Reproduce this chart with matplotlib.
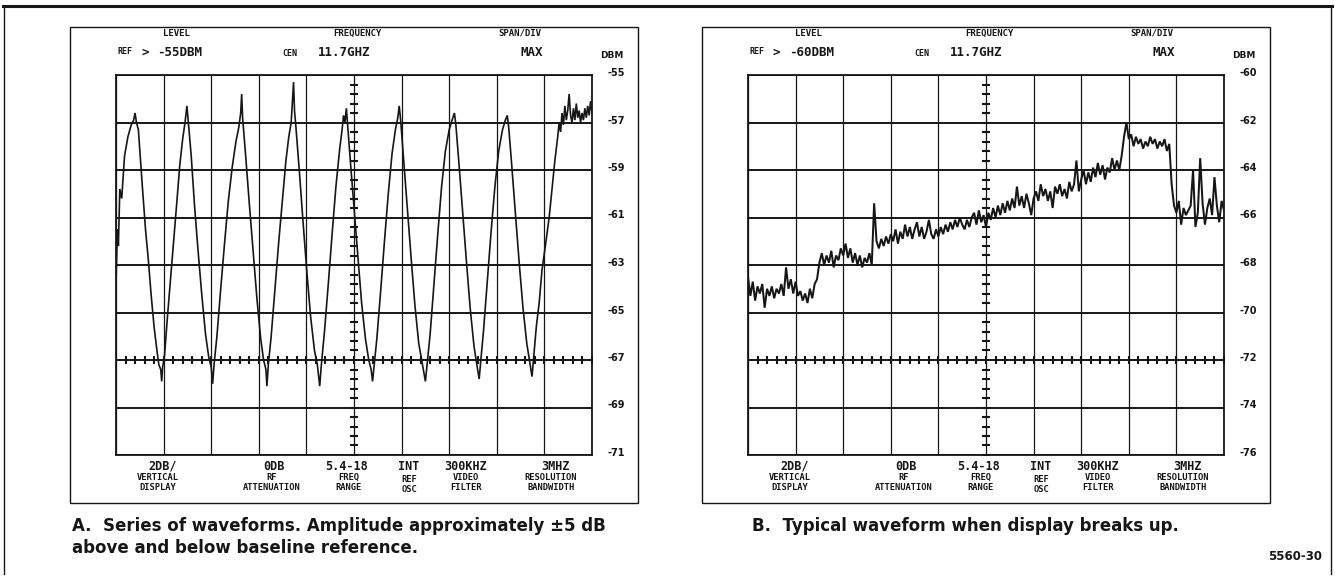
import numpy as np
import matplotlib
matplotlib.use("Agg")
import matplotlib.pyplot as plt
from matplotlib.lines import Line2D
from matplotlib.patches import Rectangle
from matplotlib.transforms import ScaledTranslation

# ---------------- data ----------------
# Panel A: series of waveforms (x in screen divisions, y in dBm)
LEFT_X = [0.00, 0.03, 0.05, 0.08, 0.12, 0.18, 0.25, 0.32, 0.37, 0.40, 0.43, 0.47, 0.55, 0.62, 0.68, 0.74,
          0.80, 0.86, 0.90, 0.94, 0.96, 0.98, 1.02, 1.08, 1.15, 1.22, 1.28, 1.34, 1.40, 1.45, 1.49, 1.52,
          1.58, 1.65, 1.72, 1.80, 1.88, 1.95, 2.00, 2.03, 2.06, 2.12, 2.20, 2.28, 2.36, 2.44, 2.52, 2.58,
          2.62, 2.64, 2.66, 2.72, 2.80, 2.88, 2.96, 3.04, 3.10, 3.15, 3.17, 3.20, 3.26, 3.34, 3.42, 3.50,
          3.57, 3.63, 3.68, 3.71, 3.73, 3.75, 3.78, 3.85, 3.93, 4.01, 4.09, 4.17, 4.23, 4.28, 4.31, 4.38,
          4.46, 4.54, 4.62, 4.70, 4.75, 4.78, 4.81, 4.84, 4.87, 4.93, 5.00, 5.08, 5.16, 5.24, 5.31, 5.36,
          5.39, 5.42, 5.48, 5.56, 5.64, 5.72, 5.80, 5.87, 5.92, 5.95, 5.98, 6.04, 6.12, 6.20, 6.28, 6.36,
          6.44, 6.50, 6.53, 6.60, 6.68, 6.76, 6.84, 6.92, 7.00, 7.06, 7.11, 7.14, 7.20, 7.28, 7.36, 7.44,
          7.52, 7.58, 7.63, 7.66, 7.72, 7.80, 7.88, 7.96, 8.04, 8.12, 8.18, 8.22, 8.25, 8.31, 8.39, 8.47,
          8.55, 8.63, 8.70, 8.74, 8.77, 8.83, 8.89, 8.95, 9.02, 9.10, 9.16, 9.22, 9.28, 9.31, 9.34, 9.37,
          9.40, 9.43, 9.46, 9.49, 9.52, 9.55, 9.58, 9.61, 9.64, 9.67, 9.70, 9.73, 9.76, 9.79, 9.82, 9.85,
          9.88, 9.91, 9.94, 9.97, 10.00]
LEFT_Y = [-63.8, -61.5, -62.2, -59.8, -60.2, -58.4, -57.6, -57.1, -56.9, -56.6, -57.0, -57.3, -59.6, -61.5, -62.8, -64.3,
          -65.6, -66.6, -67.2, -67.4, -67.9, -67.3, -66.8, -65.2, -63.5, -61.8, -60.3, -58.8, -57.7, -57.0, -56.3, -57.0,
          -58.4, -60.5, -62.3, -64.2, -65.9, -66.9, -67.3, -68.0, -67.2, -66.0, -64.0, -62.1, -60.3, -58.9, -57.8, -57.2,
          -56.6, -55.8, -56.8, -58.3, -60.4, -62.4, -64.4, -66.1, -67.0, -67.4, -68.1, -67.2, -66.0, -64.0, -62.0, -60.2,
          -58.6, -57.6, -57.0, -56.0, -55.3, -56.5, -57.2, -59.0, -61.2, -63.3, -65.2, -66.6, -67.2, -68.1, -67.3, -65.8,
          -63.8, -61.7, -59.7, -58.1, -57.3, -56.7, -57.0, -56.4, -57.2, -58.8, -60.6, -62.6, -64.6, -66.1, -67.0, -67.4,
          -67.9, -67.3, -66.1, -64.1, -62.0, -60.0, -58.3, -57.3, -56.8, -56.3, -56.9, -58.5, -60.6, -62.7, -64.7, -66.3,
          -67.2, -67.9, -67.3, -65.9, -63.8, -61.7, -59.7, -58.2, -57.3, -56.9, -56.6, -57.1, -58.6, -60.7, -62.8, -64.8,
          -66.4, -67.2, -67.8, -67.1, -65.8, -63.7, -61.6, -59.7, -58.2, -57.3, -56.9, -56.7, -57.2, -58.7, -60.8, -62.9,
          -64.8, -66.3, -67.2, -67.7, -67.0, -65.6, -64.6, -63.2, -62.2, -61.0, -59.8, -58.6, -57.6, -57.0, -57.4, -56.6,
          -57.1, -56.3, -56.9, -56.5, -55.8, -56.7, -57.0, -56.4, -56.9, -56.2, -56.8, -56.5, -57.0, -56.6, -56.9, -56.4,
          -56.8, -56.3, -56.7, -56.1, -56.6]

# Panel B: waveform when display breaks up (one value per 0.05 division of sweep)
RIGHT_Y = [-68.5, -69.3, -68.7, -69.5, -68.9, -69.2, -68.8, -69.8, -69.0, -69.3,
           -68.9, -69.4, -69.0, -69.2, -68.8, -69.3, -68.1, -69.0, -68.6, -69.2,
           -68.7, -69.3, -69.1, -69.5, -69.2, -69.6, -69.0, -69.4, -68.8, -68.6,
           -67.9, -67.5, -68.0, -67.6, -67.9, -67.4, -68.1, -67.6, -67.8, -67.3,
           -67.6, -67.1, -67.7, -67.3, -67.9, -67.5, -68.0, -67.6, -68.1, -67.7,
           -67.9, -67.5, -68.0, -65.4, -67.0, -67.3, -66.9, -67.2, -66.8, -67.1,
           -66.7, -67.0, -66.5, -67.1, -66.6, -66.9, -66.3, -66.8, -66.4, -66.9,
           -66.5, -66.2, -66.8, -66.4, -66.9, -66.6, -66.1, -66.7, -66.9, -66.5,
           -66.8, -66.4, -66.7, -66.3, -66.6, -66.2, -66.5, -66.1, -66.4, -66.0,
           -66.3, -66.5, -66.1, -66.4, -66.0, -65.8, -66.3, -65.7, -66.2, -65.9,
           -66.4, -65.8, -66.1, -65.6, -66.0, -65.5, -65.9, -65.4, -65.8, -65.3,
           -65.7, -65.2, -65.6, -64.7, -65.5, -65.1, -65.6, -65.0, -65.4, -65.9,
           -65.2, -64.9, -65.3, -64.6, -65.1, -64.8, -65.3, -64.9, -65.6, -64.7,
           -65.0, -64.6, -65.1, -64.8, -65.2, -64.5, -64.9, -64.6, -63.6, -64.9,
           -64.4, -64.0, -64.6, -64.1, -64.5, -63.9, -64.3, -63.7, -64.2, -63.8,
           -64.4, -63.9, -64.1, -63.5, -64.0, -63.6, -64.0, -63.4, -62.6, -62.0,
           -62.7, -62.5, -63.0, -62.6, -62.9, -62.7, -63.1, -62.8, -63.0, -62.6,
           -62.9, -62.7, -63.1, -62.8, -63.0, -62.7, -63.2, -62.9, -64.6, -65.5,
           -65.8, -65.3, -66.3, -65.6, -65.9, -65.7, -65.5, -64.0, -66.4, -65.8,
           -63.5, -65.4, -66.3, -65.6, -65.2, -65.9, -64.3, -65.5, -66.2, -65.3,
           -65.7]
RIGHT_X = np.linspace(0, 10, len(RIGHT_Y))

LEFT_YTICKS = [-55, -57, -59, -61, -63, -65, -67, -69, -71]
RIGHT_YTICKS = [-60, -62, -64, -66, -68, -70, -72, -74, -76]
LEFT_BASELINE = -67
RIGHT_BASELINE = -72

LEFT_REF = "-55DBM"
RIGHT_REF = "-60DBM"
CENTER_FREQ = "11.7GHZ"
SPAN = "MAX"
BOTTOM_VALUES = ["2DB/", "0DB", "5.4-18", "INT", "300KHZ", "3MHZ"]
BOTTOM_SUB1 = ["VERTICAL", "RF", "FREQ", "REF", "VIDEO", "RESOLUTION"]
BOTTOM_SUB2 = ["DISPLAY", "ATTENUATION", "RANGE", "OSC", "FILTER", "BANDWIDTH"]
CAPTION_A = ["A.  Series of waveforms. Amplitude approximately \u00b15 dB",
             "above and below baseline reference."]
CAPTION_B = "B.  Typical waveform when display breaks up."
FIG_ID = "5560-30"

# ---------------- layout ----------------
W, H = 1335, 577
fig = plt.figure(figsize=(W / 100, H / 100), dpi=100)
fig.patch.set_facecolor("white")

def fx(x):
    return x / W

def fy(y):
    return 1 - y / H

INK = "#161616"
MONO = ["DejaVu Sans Mono"]
NARROW = ["Liberation Sans Narrow", "DejaVu Sans"]
CAP = ["DejaVu Sans"]

# outer border
fig.add_artist(Line2D([fx(3), fx(1332)], [fy(6), fy(6)], color=INK, lw=2.2, transform=fig.transFigure))
fig.add_artist(Line2D([fx(4), fx(4)], [fy(6), fy(574)], color=INK, lw=1.0, transform=fig.transFigure))
fig.add_artist(Line2D([fx(1331), fx(1331)], [fy(6), fy(574)], color=INK, lw=1.0, transform=fig.transFigure))

panels = [
    (0, LEFT_X, LEFT_Y, LEFT_YTICKS, LEFT_BASELINE, LEFT_REF, 1.2),
    (632, RIGHT_X, RIGHT_Y, RIGHT_YTICKS, RIGHT_BASELINE, RIGHT_REF, 1.45),
]

bottom_x = [163, 274, 347, 409, 466, 555]
sub_x = [158, 272, 349, 409, 466, 551]

for off, xs, ys, yt, base, ref, tlw in panels:
    # inner photo frame
    fig.add_artist(Rectangle((fx(70 + off), fy(503)), (638 - 70) / W, (503 - 27) / H,
                             transform=fig.transFigure, fill=False, ec=INK, lw=1.0))
    ax = fig.add_axes([fx(116 + off), fy(455), 476 / W, 380 / H])
    ax.set_xlim(0, 10)
    ax.set_ylim(yt[-1], yt[0])
    ax.set_xticks(range(11))
    ax.set_yticks(yt)
    ax.set_xticklabels([])
    ax.xaxis.grid(True, color=INK, lw=0.9)
    ax.yaxis.grid(True, color=INK, lw=1.4)
    ax.tick_params(axis="both", length=0)
    ax.tick_params(axis="y", labelleft=False, labelright=True, pad=11)
    for s in ax.spines.values():
        s.set_color(INK)
        s.set_linewidth(1.3)
    ax.set_yticklabels([str(v) for v in yt], fontfamily=NARROW, fontweight="bold",
                       fontsize=7, color=INK)
    for lbl in ax.get_yticklabels():
        lbl.set_transform(lbl.get_transform() + ScaledTranslation(0, 3 / 100, fig.dpi_scale_trans))
    # graticule minor marks
    ymin, ymax = yt[-1], yt[0]
    step_y = (ymax - ymin) / 40
    ax.plot([5] * 41, [ymin + k * step_y for k in range(41)], ls="none", marker="_",
            ms=6, mew=1.5, color=INK)
    ax.plot([k * 0.2 for k in range(51)], [base] * 51, ls="none", marker="|",
            ms=6, mew=1.5, color=INK)
    # trace
    ax.plot(xs, ys, color=INK, lw=tlw, solid_joinstyle="miter")

    # header text
    fig.text(fx(176 + off), fy(33), "LEVEL", fontfamily=MONO, fontweight="bold", fontsize=6.5,
             ha="center", va="center", color=INK)
    fig.text(fx(357 + off), fy(33), "FREQUENCY", fontfamily=MONO, fontweight="bold", fontsize=6.5,
             ha="center", va="center", color=INK)
    fig.text(fx(520 + off), fy(33), "SPAN/DIV", fontfamily=MONO, fontweight="bold", fontsize=6.5,
             ha="center", va="center", color=INK)
    fig.text(fx(118 + off), fy(52), "REF", fontfamily=MONO, fontweight="bold", fontsize=6,
             ha="left", va="center", color=INK)
    fig.text(fx(141 + off), fy(52), ">", fontfamily=MONO, fontweight="bold", fontsize=9,
             ha="left", va="center", color=INK)
    fig.text(fx(157 + off), fy(52), ref, fontfamily=MONO, fontweight="bold", fontsize=9,
             ha="left", va="center", color=INK)
    fig.text(fx(282 + off), fy(53), "CEN", fontfamily=MONO, fontweight="bold", fontsize=6,
             ha="left", va="center", color=INK)
    fig.text(fx(318 + off), fy(52), CENTER_FREQ, fontfamily=MONO, fontweight="bold", fontsize=9,
             ha="left", va="center", color=INK)
    fig.text(fx(532 + off), fy(52), SPAN, fontfamily=MONO, fontweight="bold", fontsize=9,
             ha="center", va="center", color=INK)
    fig.text(fx(612 + off), fy(56), "DBM", fontfamily=NARROW, fontweight="bold", fontsize=6.5,
             ha="center", va="center", color=INK)

    # bottom labels
    for bx, sx, v, s1, s2 in zip(bottom_x, sub_x, BOTTOM_VALUES, BOTTOM_SUB1, BOTTOM_SUB2):
        fig.text(fx(bx + off), fy(466), v, fontfamily=MONO, fontweight="bold", fontsize=8.5,
                 ha="center", va="center", color=INK)
        y1, y2 = (480, 489) if s1 == "REF" else (477, 487)
        fig.text(fx(sx + off), fy(y1), s1, fontfamily=MONO, fontweight="bold", fontsize=6.3,
                 ha="center", va="center", color=INK)
        fig.text(fx(sx + off), fy(y2), s2, fontfamily=MONO, fontweight="bold", fontsize=6.3,
                 ha="center", va="center", color=INK)

# captions
fig.text(fx(72), fy(526), CAPTION_A[0], fontfamily=CAP, fontweight="bold", fontsize=12,
         ha="left", va="center", color=INK)
fig.text(fx(72), fy(548), CAPTION_A[1], fontfamily=CAP, fontweight="bold", fontsize=12,
         ha="left", va="center", color=INK)
fig.text(fx(752), fy(526), CAPTION_B, fontfamily=CAP, fontweight="bold", fontsize=12,
         ha="left", va="center", color=INK)
fig.text(fx(1322), fy(556), FIG_ID, fontfamily=CAP, fontweight="bold", fontsize=8.5,
         ha="right", va="center", color=INK)

fig.savefig("out.png", dpi=100, facecolor="white")
